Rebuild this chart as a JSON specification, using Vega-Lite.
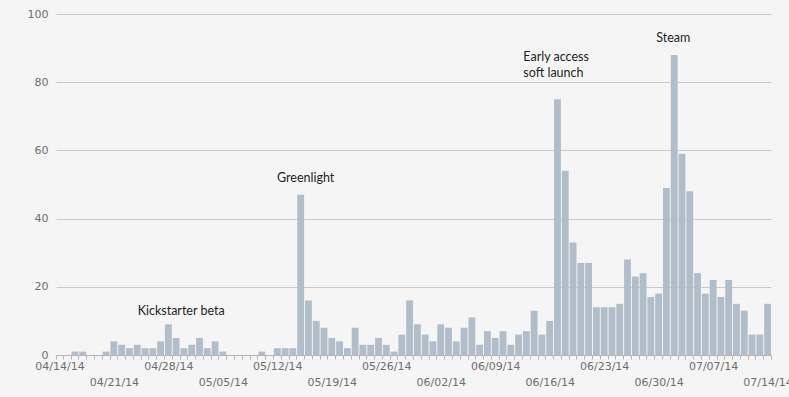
{
  "$schema": "https://vega.github.io/schema/vega-lite/v6.json",
  "autosize": "none",
  "width": 715,
  "height": 341,
  "padding": {"left": 56, "top": 14, "right": 18, "bottom": 42},
  "background": "#f5f5f5",
  "config": {"view": {"stroke": null}},
  "datasets": {
    "counts": [
      {"d":"04/14/14","v":0},{"d":"04/15/14","v":0},{"d":"04/16/14","v":1},{"d":"04/17/14","v":1},{"d":"04/18/14","v":0},{"d":"04/19/14","v":0},{"d":"04/20/14","v":1},
      {"d":"04/21/14","v":4},{"d":"04/22/14","v":3},{"d":"04/23/14","v":2},{"d":"04/24/14","v":3},{"d":"04/25/14","v":2},{"d":"04/26/14","v":2},{"d":"04/27/14","v":4},
      {"d":"04/28/14","v":9},{"d":"04/29/14","v":5},{"d":"04/30/14","v":2},{"d":"05/01/14","v":3},{"d":"05/02/14","v":5},{"d":"05/03/14","v":2},{"d":"05/04/14","v":4},
      {"d":"05/05/14","v":1},{"d":"05/06/14","v":0},{"d":"05/07/14","v":0},{"d":"05/08/14","v":0},{"d":"05/09/14","v":0},{"d":"05/10/14","v":1},{"d":"05/11/14","v":0},
      {"d":"05/12/14","v":2},{"d":"05/13/14","v":2},{"d":"05/14/14","v":2},{"d":"05/15/14","v":47},{"d":"05/16/14","v":16},{"d":"05/17/14","v":10},{"d":"05/18/14","v":8},
      {"d":"05/19/14","v":5},{"d":"05/20/14","v":4},{"d":"05/21/14","v":2},{"d":"05/22/14","v":8},{"d":"05/23/14","v":3},{"d":"05/24/14","v":3},{"d":"05/25/14","v":5},
      {"d":"05/26/14","v":3},{"d":"05/27/14","v":1},{"d":"05/28/14","v":6},{"d":"05/29/14","v":16},{"d":"05/30/14","v":9},{"d":"05/31/14","v":6},{"d":"06/01/14","v":4},
      {"d":"06/02/14","v":9},{"d":"06/03/14","v":8},{"d":"06/04/14","v":4},{"d":"06/05/14","v":8},{"d":"06/06/14","v":11},{"d":"06/07/14","v":3},{"d":"06/08/14","v":7},
      {"d":"06/09/14","v":5},{"d":"06/10/14","v":7},{"d":"06/11/14","v":3},{"d":"06/12/14","v":6},{"d":"06/13/14","v":7},{"d":"06/14/14","v":13},{"d":"06/15/14","v":6},
      {"d":"06/16/14","v":10},{"d":"06/17/14","v":75},{"d":"06/18/14","v":54},{"d":"06/19/14","v":33},{"d":"06/20/14","v":27},{"d":"06/21/14","v":27},{"d":"06/22/14","v":14},
      {"d":"06/23/14","v":14},{"d":"06/24/14","v":14},{"d":"06/25/14","v":15},{"d":"06/26/14","v":28},{"d":"06/27/14","v":23},{"d":"06/28/14","v":24},{"d":"06/29/14","v":17},
      {"d":"06/30/14","v":18},{"d":"07/01/14","v":49},{"d":"07/02/14","v":88},{"d":"07/03/14","v":59},{"d":"07/04/14","v":48},{"d":"07/05/14","v":24},{"d":"07/06/14","v":18},
      {"d":"07/07/14","v":22},{"d":"07/08/14","v":17},{"d":"07/09/14","v":22},{"d":"07/10/14","v":15},{"d":"07/11/14","v":13},{"d":"07/12/14","v":6},{"d":"07/13/14","v":6},
      {"d":"07/14/14","v":15}
    ],
    "notes": [
      {"d":"04/29/14","v":12.9,"t":"Kickstarter beta"},
      {"d":"05/15/14","v":51.9,"t":"Greenlight"}
    ],
    "notesSteam": [
      {"d":"07/02/14","v":93,"t":"Steam"}
    ],
    "notesLeft": [
      {"d":"06/13/14","v":87.4,"t":"Early access\nsoft launch"}
    ]
  },
  "layer": [
    {
      "data": {"name": "counts"},
      "mark": {"type": "bar", "color": "#b2bdca"},
      "encoding": {
        "x": {
          "field": "d", "type": "ordinal", "sort": null,
          "scale": {"paddingInner": 0.12, "paddingOuter": 0},
          "axis": {
            "title": null,
            "labelAngle": 0,
            "tickBand": "extent",
            "tickSize": 4,
            "tickColor": "#b5b5b5",
            "domainColor": "#b5b5b5",
            "labelFont": "DejaVu Sans",
            "labelFontSize": 11,
            "labelColor": "#6e6e6e",
            "labelBaseline": "top",
            "labelOverlap": false,
            "labelBound": false,
            "labelExpr": "indexof(['04/14/14','04/21/14','04/28/14','05/05/14','05/12/14','05/19/14','05/26/14','06/02/14','06/09/14','06/16/14','06/23/14','06/30/14','07/07/14','07/14/14'], datum.value) >= 0 ? datum.value : ''",
            "labelPadding": {"condition": {"test": "indexof(['04/21/14','05/05/14','05/19/14','06/02/14','06/16/14','06/30/14','07/14/14'], datum.value) >= 0", "value": 17}, "value": 1}
          }
        },
        "y": {
          "field": "v", "type": "quantitative",
          "scale": {"domain": [0, 100], "nice": false},
          "axis": {
            "title": null,
            "values": [0, 20, 40, 60, 80, 100],
            "domain": false,
            "ticks": false,
            "gridColor": "#c9c9c9",
            "labelFont": "DejaVu Sans",
            "labelFontSize": 11,
            "labelColor": "#6e6e6e",
            "labelPadding": 8
          }
        }
      }
    },
    {
      "data": {"name": "notes"},
      "mark": {"type": "text", "font": "Lato", "fontSize": 12.5, "color": "#1e1e1e", "baseline": "middle", "align": "center", "dx": 5},
      "encoding": {
        "x": {"field": "d", "type": "ordinal", "sort": null},
        "y": {"field": "v", "type": "quantitative"},
        "text": {"field": "t"}
      }
    },
    {
      "data": {"name": "notesSteam"},
      "mark": {"type": "text", "font": "Lato", "fontSize": 12.5, "color": "#1e1e1e", "baseline": "middle", "align": "center", "dx": -1},
      "encoding": {
        "x": {"field": "d", "type": "ordinal", "sort": null},
        "y": {"field": "v", "type": "quantitative"},
        "text": {"field": "t"}
      }
    },
    {
      "data": {"name": "notesLeft"},
      "mark": {"type": "text", "font": "Lato", "fontSize": 12.5, "color": "#1e1e1e", "lineBreak": "\n", "lineHeight": 16, "baseline": "middle", "align": "left", "dx": -3},
      "encoding": {
        "x": {"field": "d", "type": "ordinal", "sort": null},
        "y": {"field": "v", "type": "quantitative"},
        "text": {"field": "t"}
      }
    }
  ]
}
